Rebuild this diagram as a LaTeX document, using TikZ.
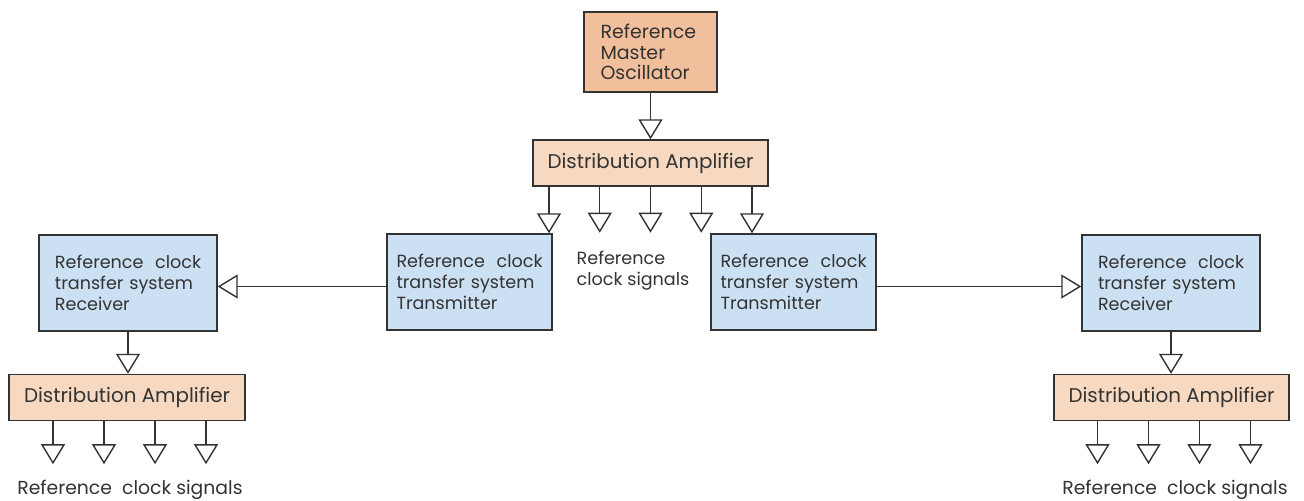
\documentclass[tikz,border=0pt]{standalone}
\usepackage{fontspec}
\setmainfont{Poppins}
\usetikzlibrary{arrows.meta,positioning}

\definecolor{oscfill}{HTML}{F2BF9D}
\definecolor{ampfill}{HTML}{F6D9C0}
\definecolor{clkfill}{HTML}{CCE0F3}
\definecolor{edge}{HTML}{333333}

\begin{document}
\begin{tikzpicture}[
	box/.style={draw=edge,line width=0.8pt,text=edge,font=\fontsize{10}{12}\selectfont},
	osc/.style={box,fill=oscfill,minimum width=2.66cm,minimum height=1.6cm,text width=2cm,align=left,font=\fontsize{10.8}{11.7}\selectfont},
	amp/.style={box,fill=ampfill,minimum width=4.7cm,minimum height=0.92cm,font=\fontsize{11.3}{12}\selectfont},
	clk/.style={box,fill=clkfill,minimum height=1.92cm,text width=2.92cm,align=left},
	sig/.style={draw=edge,line width=0.8pt,-{Triangle[open,length=0.4cm,width=0.48cm]}},
	lbl/.style={text=edge,font=\fontsize{10}{12}\selectfont,align=left}]
	\useasboundingbox (0,0) rectangle (26.08,-10.02);
	% master and first amplifier
	\node[osc] (osc) at (13.01,-1.04) {Reference\\Master\\Oscillator};
	\node[amp] (ampTop) at (13.01,-3.26) {Distribution Amplifier};
	\draw[sig] (osc) -- (ampTop);
	% transmitters
	\node[clk,minimum width=3.3cm] (txL) at (9.39,-5.64) {Reference~ clock\\transfer system\\Transmitter};
	\node[clk,minimum width=3.3cm] (txR) at (15.87,-5.64) {Reference~ clock\\transfer system\\Transmitter};
	\draw[sig] ([xshift=-2.03cm]ampTop.south) -- ([xshift=-2.03cm]ampTop.south |- txL.north);
	\draw[sig] ([xshift=2.03cm]ampTop.south) -- ([xshift=2.03cm]ampTop.south |- txR.north);
	\foreach \k/\n in {-1/a,0/b,1/c} {
		\coordinate (out\n) at ([xshift=\k*1.015cm,yshift=-0.92cm]ampTop.south);
		\draw[sig] ([xshift=\k*1.015cm]ampTop.south) -- (out\n);
	}
	\node[lbl] (sigMid) at (12.66,-5.42) {Reference\\clock signals};
	% receivers
	\node[clk,minimum width=3.56cm] (rxL) at (2.56,-5.66) {Reference~ clock\\transfer system\\Receiver};
	\node[clk,minimum width=3.56cm] (rxR) at (23.42,-5.66) {Reference~ clock\\transfer system\\Receiver};
	\draw[sig] ([yshift=-0.09cm]txL.west) -- ([yshift=-0.09cm]txL.west -| rxL.east);
	\draw[sig] ([yshift=-0.09cm]txR.east) -- ([yshift=-0.09cm]txR.east -| rxR.west);
	% local amplifiers
	\node[amp,minimum width=4.72cm] (ampL) at (2.54,-7.95) {Distribution Amplifier};
	\node[amp] (ampR) at (23.43,-7.95) {Distribution Amplifier};
	\draw[sig] (rxL.south) -- (rxL.south |- ampL.north);
	\draw[sig] (rxR.south) -- (rxR.south |- ampR.north);
	\foreach \k/\n in {-1.5/a,-0.5/b,0.5/c,1.5/d} {
		\coordinate (outL\n) at ([xshift=\k*1.02cm+0.05cm,yshift=-0.86cm]ampL.south);
		\draw[sig] ([xshift=\k*1.02cm+0.05cm]ampL.south) -- (outL\n);
		\coordinate (outR\n) at ([xshift=\k*1.02cm+0.05cm,yshift=-0.86cm]ampR.south);
		\draw[sig] ([xshift=\k*1.02cm+0.05cm]ampR.south) -- (outR\n);
	}
	\node[lbl,font=\fontsize{10.7}{12}\selectfont] (sigL) at (2.6,-9.8) {Reference~ clock signals};
	\node[lbl,font=\fontsize{10.7}{12}\selectfont] (sigR) at (23.5,-9.8) {Reference~ clock signals};
\end{tikzpicture}
\end{document}
